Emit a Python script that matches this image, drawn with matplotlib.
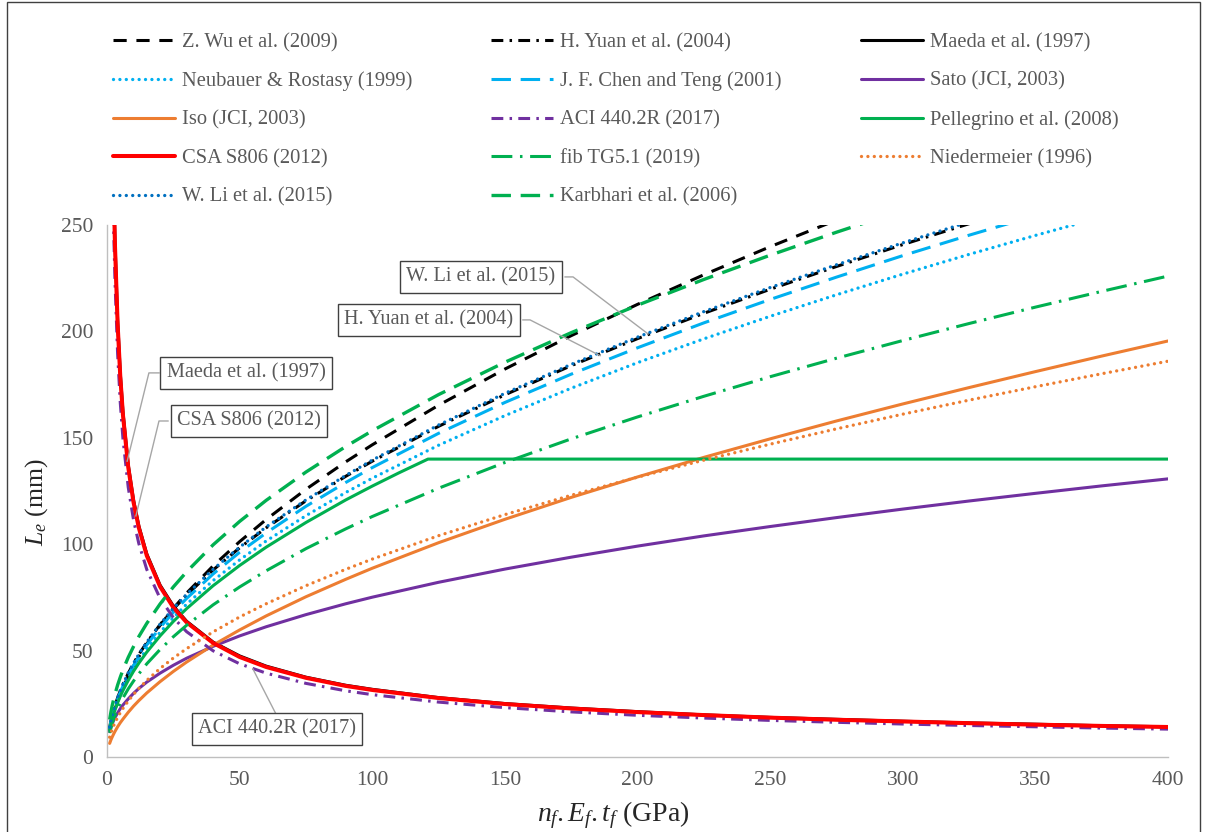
import matplotlib
matplotlib.use('Agg')
import matplotlib.pyplot as plt
from matplotlib.patches import Rectangle

plt.rcParams['font.family'] = ['Liberation Serif', 'DejaVu Serif']
plt.rcParams['mathtext.fontset'] = 'custom'
plt.rcParams['mathtext.rm'] = 'Liberation Serif'
plt.rcParams['mathtext.it'] = 'Liberation Serif:italic'
plt.rcParams['lines.scale_dashes'] = False

GRAY = '#595959'

# n_f.E_f.t_f (GPa) sample points
x = [1, 1.5, 2, 2.5, 3, 4, 5, 6, 8, 10, 12, 15, 20, 25, 30, 40, 50, 60, 75, 90,
     100, 125, 150, 175, 200, 225, 250, 275, 300, 325, 350, 375, 400]

wu = [12.4, 15.4, 18.0, 20.3, 22.4, 26.1, 29.5, 32.5, 37.9, 42.7, 47.1, 53.1, 61.9, 69.8, 77.0, 89.8, 101.2, 111.6, 125.8, 138.7,
      146.7, 165.3, 182.3, 198.0, 212.7, 226.6, 239.8, 252.3, 264.4, 276.0, 287.0, 298.0, 308.5]
yuan = [13.9, 17.0, 19.7, 22.0, 24.1, 27.8, 31.1, 34.0, 39.3, 44.0, 48.2, 53.8, 62.2, 69.5, 76.1, 87.9, 98.3, 107.7, 120.4, 131.9,
        139.0, 155.4, 170.2, 183.9, 196.6, 208.5, 219.8, 230.5, 240.8, 250.6, 260.0, 269.2, 278.0]
maeda = [459.0, 362.8, 307.1, 269.8, 242.7, 205.4, 180.5, 162.3, 137.4, 120.7, 108.6, 95.4, 80.8, 71.0, 63.8, 54.0, 47.5, 42.7, 37.5, 33.7,
         31.8, 27.9, 25.1, 23.0, 21.3, 19.8, 18.6, 17.7, 16.8, 16.0, 15.4, 14.7, 14.2]
neubauer = [13.1, 16.0, 18.5, 20.7, 22.7, 26.2, 29.3, 32.1, 37.1, 41.4, 45.4, 50.7, 58.6, 65.5, 71.8, 82.9, 92.6, 101.5, 113.4, 124.3,
            131.0, 146.5, 160.4, 173.3, 185.3, 196.5, 207.1, 217.2, 226.9, 236.2, 245.1, 253.7, 262.0]
chen = [13.6, 16.7, 19.2, 21.5, 23.6, 27.2, 30.4, 33.3, 38.5, 43.0, 47.1, 52.7, 60.8, 68.0, 74.5, 86.0, 96.2, 105.3, 117.8, 129.0,
        136.0, 152.1, 166.6, 179.9, 192.3, 204.0, 215.0, 225.5, 235.6, 245.2, 254.4, 263.4, 272.0]
sato = [11.9, 14.0, 15.7, 17.2, 18.5, 20.7, 22.7, 24.4, 27.3, 29.9, 32.2, 35.2, 39.4, 43.1, 46.4, 52.0, 56.9, 61.2, 66.9, 72.0,
        75.1, 82.1, 88.3, 93.9, 99.1, 103.9, 108.3, 112.5, 116.5, 120.3, 123.9, 127.4, 130.7]
iso = [6.4, 8.1, 9.5, 10.8, 12.0, 14.2, 16.1, 17.8, 21.0, 23.9, 26.5, 30.1, 35.4, 40.2, 44.6, 52.6, 59.7, 66.3, 75.3, 83.5,
       88.7, 100.7, 111.7, 122.0, 131.6, 140.8, 149.5, 157.9, 165.9, 173.6, 181.1, 188.4, 195.5]
aci = [423.6, 334.8, 283.4, 248.9, 224.0, 189.6, 166.6, 149.8, 126.8, 111.4, 100.3, 88.1, 74.6, 65.5, 58.9, 49.9, 43.8, 39.4, 34.6, 31.1,
       29.3, 25.8, 23.2, 21.2, 19.6, 18.3, 17.2, 16.3, 15.5, 14.8, 14.2, 13.6, 13.1]
csa = [455.0, 359.6, 304.4, 267.4, 240.6, 203.6, 178.9, 160.9, 136.2, 119.7, 107.7, 94.6, 80.1, 70.3, 63.3, 53.6, 47.0, 42.3, 37.2, 33.4,
       31.5, 27.7, 24.9, 22.8, 21.1, 19.7, 18.5, 17.5, 16.7, 15.9, 15.2, 14.6, 14.1]
fib = [11.3, 13.8, 16.0, 17.9, 19.6, 22.6, 25.3, 27.7, 32.0, 35.7, 39.1, 43.8, 50.5, 56.5, 61.9, 71.5, 79.9, 87.5, 97.9, 107.2,
       113.0, 126.3, 138.4, 149.5, 159.8, 169.5, 178.7, 187.4, 195.7, 203.7, 211.4, 218.8, 226.0]
niedermeier = [9.3, 11.4, 13.2, 14.7, 16.1, 18.6, 20.8, 22.8, 26.3, 29.4, 32.2, 36.0, 41.6, 46.5, 50.9, 58.8, 65.8, 72.0, 80.5, 88.2,
               93.0, 104.0, 113.9, 123.0, 131.5, 139.5, 147.0, 154.2, 161.1, 167.7, 174.0, 180.1, 186.0]
li = [14.0, 17.1, 19.7, 22.1, 24.2, 27.9, 31.2, 34.2, 39.5, 44.1, 48.3, 54.0, 62.4, 69.8, 76.4, 88.2, 98.6, 108.1, 120.8, 132.3,
      139.5, 156.0, 170.9, 184.5, 197.3, 209.3, 220.6, 231.3, 241.6, 251.5, 261.0, 270.1, 279.0]
karbhari = [17.6, 21.3, 24.4, 27.1, 29.5, 33.8, 37.5, 40.9, 46.8, 51.9, 56.6, 62.8, 71.9, 79.9, 87.0, 99.7, 110.7, 120.6, 133.9, 145.9,
            153.3, 170.3, 185.5, 199.4, 212.3, 224.4, 235.8, 246.6, 256.9, 266.8, 276.2, 285.3, 294.1]

# Pellegrino is capped at 140 mm
pel_x = [1, 1.5, 2, 2.5, 3, 4, 5, 6, 8, 10, 12, 15, 20, 25, 30, 40, 50, 60, 75, 90, 100, 110, 121,
         150, 200, 250, 300, 350, 400]
pellegrino = [12.7, 15.6, 18.0, 20.1, 22.0, 25.5, 28.5, 31.2, 36.0, 40.3, 44.1, 49.3, 56.9, 63.7, 69.7, 80.5, 90.0, 98.6, 110.2,
              120.8, 127.3, 133.5, 140.0, 140.0, 140.0, 140.0, 140.0, 140.0, 140.0]

dot = (0, (0.01, 4.6))
series = [
    ('Z. Wu et al. (2009)', x, wu, '#000000', 2.2, (0, (9.5, 7))),
    ('H. Yuan et al. (2004)', x, yuan, '#000000', 2.2, (0, (8.5, 4.5, 1.8, 4.5))),
    ('Maeda et al. (1997)', x, maeda, '#000000', 2.2, '-'),
    ('Neubauer & Rostasy (1999)', x, neubauer, '#00B0F0', 2.4, dot),
    ('J. F. Chen and Teng (2001)', x, chen, '#00B0F0', 2.2, (0, (14, 7))),
    ('Sato (JCI, 2003)', x, sato, '#7030A0', 2.2, '-'),
    ('Iso (JCI, 2003)', x, iso, '#ED7D31', 2.2, '-'),
    ('ACI 440.2R (2017)', x, aci, '#7030A0', 2.2, (0, (8.5, 4.5, 1.8, 4.5))),
    ('Pellegrino et al. (2008)', pel_x, pellegrino, '#00B050', 2.2, '-'),
    ('CSA S806 (2012)', x, csa, '#FF0000', 2.9, '-'),
    ('fib TG5.1 (2019)', x, fib, '#00B050', 2.2, (0, (15, 5.5, 1.8, 5.5))),
    ('Niedermeier (1996)', x, niedermeier, '#ED7D31', 2.4, dot),
    ('W. Li et al. (2015)', x, li, '#0070C0', 2.4, dot),
    ('Karbhari et al. (2006)', x, karbhari, '#00B050', 2.4, (0, (14, 7))),
]

fig = plt.figure(figsize=(12.07, 8.32), dpi=100)
ax = fig.add_axes([107 / 1207, 1 - 757 / 832, (1168 - 107) / 1207, (757 - 225) / 832])

handles = {}
for i, (lab, xs, ys, col, lw, ls) in enumerate(series):
    cap = 'round' if ls == dot else 'butt'
    ln, = ax.plot(xs, ys, color=col, lw=lw, linestyle=ls, dash_capstyle=cap,
                  solid_capstyle='round', label=lab, zorder=2 + i)
    handles[lab] = ln

ax.set_xlim(0, 400)
ax.set_ylim(0, 250)
ax.set_xticks(range(0, 401, 50))
ax.set_yticks(range(0, 251, 50))
ax.tick_params(length=0, labelsize=15.5, colors=GRAY, pad=10)
for s in ['top', 'right']:
    ax.spines[s].set_visible(False)
for s in ['left', 'bottom']:
    ax.spines[s].set_color('#BFBFBF')
    ax.spines[s].set_linewidth(1.0)

ax.set_xlabel(r'$n_{f}{.}E_{f}{.}t_{f}$ (GPa)', fontsize=20, color='#262626', va='center', ha='center')
ax.xaxis.set_label_coords((613 - 107) / (1168 - 107), -58 / 532)
ax.set_ylabel(r'$L_{e}$ (mm)', fontsize=18.5, color='#262626', va='center', ha='center')
ax.yaxis.set_label_coords(-70 / 1061, (757 - 502) / 532)

# legend laid out column by column so it reads row by row
order = ['Z. Wu et al. (2009)', 'Neubauer & Rostasy (1999)', 'Iso (JCI, 2003)', 'CSA S806 (2012)', 'W. Li et al. (2015)',
         'H. Yuan et al. (2004)', 'J. F. Chen and Teng (2001)', 'ACI 440.2R (2017)', 'fib TG5.1 (2019)', 'Karbhari et al. (2006)',
         'Maeda et al. (1997)', 'Sato (JCI, 2003)', 'Pellegrino et al. (2008)', 'Niedermeier (1996)']
leg = fig.legend([handles[k] for k in order], order, ncol=3, loc='upper left',
                 bbox_to_anchor=(113 / 1207, 1 - 33 / 832), frameon=False,
                 fontsize=14.8, handlelength=3.0, handletextpad=0.35,
                 columnspacing=3.85, labelspacing=0.93, borderpad=0, borderaxespad=0)
for t in leg.get_texts():
    t.set_color(GRAY)

# callout boxes
box = dict(boxstyle='square,pad=0.3', fc='white', ec='#404040', lw=1.0)
callouts = [
    ('W. Li et al. (2015)', (141.0, 225.6), [(172.7, 225.6), (175.7, 225.6), (204.0, 198.8)]),
    ('H. Yuan et al. (2004)', (121.4, 205.4), [(156.8, 205.4), (159.5, 205.4), (185.9, 188.6)]),
    ('Maeda et al. (1997)', (52.4, 180.5), [(19.6, 180.5), (15.8, 180.5), (7.6, 139.0)]),
    ('CSA S806 (2012)', (53.5, 157.9), [(23.0, 157.9), (19.6, 157.9), (10.9, 113.3)]),
    ('ACI 440.2R (2017)', (64.1, 13.2), [(63.7, 20.2), (55.0, 41.4)]),
]
for txt, pos, path in callouts:
    ax.plot([p[0] for p in path], [p[1] for p in path], color='#A6A6A6', lw=1.0, zorder=30, clip_on=False)
    ax.text(pos[0], pos[1], txt, ha='center', va='center', fontsize=14.6, color=GRAY,
            bbox=box, zorder=31)

fig.patches.append(Rectangle((7 / 1207, -0.01), (1200 - 7) / 1207, 1.01 - 2 / 832,
                             transform=fig.transFigure, fill=False, ec='#404040', lw=1.0))

fig.savefig('out.png', dpi=100)
